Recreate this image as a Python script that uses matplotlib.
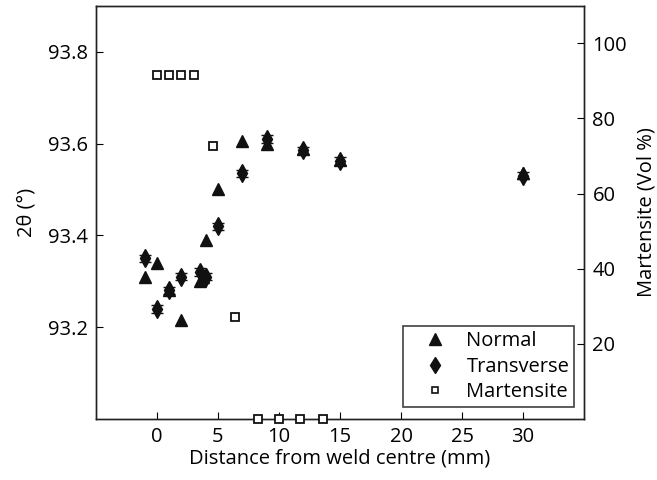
import matplotlib
matplotlib.use("Agg")
import matplotlib.pyplot as plt
from matplotlib.lines import Line2D

plt.rcParams['font.family'] = ['Open Sans', 'DejaVu Sans']

# Peak position, normal direction
normal_x = [-1, 0, 1, 2, 3.5, 3.8, 4, 5, 7, 9, 12, 15, 30]
normal_y = [93.31, 93.34, 93.28, 93.215, 93.30, 93.31, 93.39, 93.50, 93.605, 93.60, 93.587, 93.565, 93.535]

# Peak position, transverse direction
trans_x = [-1, 0, 1, 2, 3.5, 4, 5, 7, 9, 12, 15, 30]
trans_y = [93.35, 93.24, 93.28, 93.31, 93.32, 93.31, 93.42, 93.535, 93.61, 93.585, 93.562, 93.53]
trans_err = [0.008] * len(trans_x)

# Martensite volume fraction
mart_x = [0, 1, 2, 3, 4.6, 6.4, 8.3, 10, 11.7, 13.6]
mart_y = [91.5, 91.5, 91.5, 91.5, 72.6, 27.2, 0, 0, 0, 0]

FS = 14.5

fig = plt.figure(figsize=(6.57, 4.8), dpi=100)
ax = fig.add_axes([0.146, 0.127, 0.743, 0.861])
ax2 = ax.twinx()

ax.plot(normal_x, normal_y, linestyle='none', marker='^', markersize=9,
        color='#111111', zorder=3)
ax.errorbar(trans_x, trans_y, yerr=trans_err, fmt='d', markersize=9,
            color='#111111', ecolor='#111111', elinewidth=1, capsize=4,
            capthick=1, zorder=3)
ax2.plot(mart_x, mart_y, linestyle='none', marker='s', markersize=6,
         markerfacecolor='white', markeredgecolor='#111111',
         markeredgewidth=1.3, clip_on=False, zorder=4)

ax.set_xlim(-5, 35)
ax.set_ylim(93.0, 93.9)
ax2.set_ylim(0, 110)
ax.set_xticks([0, 5, 10, 15, 20, 25, 30])
ax.set_yticks([93.2, 93.4, 93.6, 93.8])
ax2.set_yticks([20, 40, 60, 80, 100])

ax.tick_params(axis='both', direction='in', length=5, labelsize=FS,
               top=False, right=False, pad=6)
ax2.tick_params(axis='y', direction='in', length=5, labelsize=FS, pad=6)

ax.set_xlabel('Distance from weld centre (mm)', fontsize=FS, labelpad=1)
ax.set_ylabel('2θ (°)', fontsize=FS, labelpad=8)
ax2.set_ylabel('Martensite (Vol %)', fontsize=FS, labelpad=7)

for a in (ax, ax2):
    for s in a.spines.values():
        s.set_linewidth(1.0)
        s.set_color('#222222')

handles = [
    Line2D([], [], linestyle='none', marker='^', markersize=8, color='#111111'),
    Line2D([], [], linestyle='none', marker='d', markersize=8, color='#111111'),
    Line2D([], [], linestyle='none', marker='s', markersize=5,
           markerfacecolor='white', markeredgecolor='#111111', markeredgewidth=1.2),
]
leg = ax2.legend(handles, ['Normal', 'Transverse', 'Martensite'],
                 loc='lower right', bbox_to_anchor=(0.98, 0.028),
                 fontsize=FS, frameon=True, fancybox=False,
                 borderpad=0.25, labelspacing=0.28, handletextpad=0.2,
                 handlelength=2.7, borderaxespad=0)
leg.get_frame().set_edgecolor('#111111')
leg.get_frame().set_linewidth(1.2)
leg.set_zorder(10)

fig.savefig('out.png', dpi=100)
